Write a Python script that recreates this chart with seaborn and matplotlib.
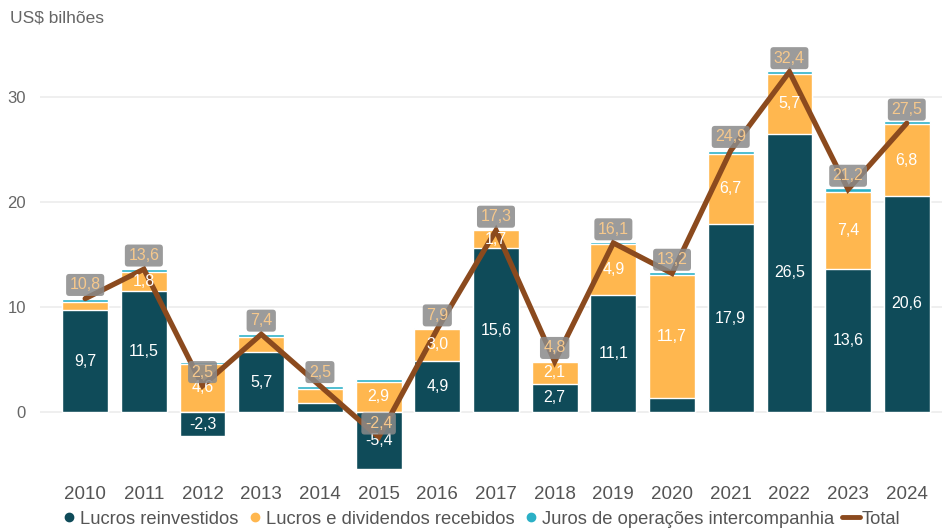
import numpy as np
import pandas as pd
import seaborn as sns
import matplotlib.pyplot as plt
from matplotlib.lines import Line2D

# values in US$ billions
anos = ["2010", "2011", "2012", "2013", "2014", "2015", "2016", "2017",
        "2018", "2019", "2020", "2021", "2022", "2023", "2024"]
reinvestidos = [9.7, 11.5, -2.3, 5.7, 0.9, -5.4, 4.9, 15.6, 2.7, 11.1, 1.3, 17.9, 26.5, 13.6, 20.6]
dividendos = [0.8, 1.8, 4.6, 1.4, 1.3, 2.9, 3.0, 1.7, 2.1, 4.9, 11.7, 6.7, 5.7, 7.4, 6.8]
juros = [0.3, 0.3, 0.2, 0.3, 0.3, 0.2, 0.1, 0.15, 0.1, 0.2, 0.3, 0.3, 0.3, 0.3, 0.3]
total = [10.8, 13.6, 2.5, 7.4, 2.5, -2.4, 7.9, 17.3, 4.8, 16.1, 13.2, 24.9, 32.4, 21.2, 27.5]

c_reinv = "#0f4b59"
c_div = "#ffb74f"
c_juros = "#2bb0c6"
c_total = "#8b4a1e"

sns.set_style("white")
plt.rcParams["font.family"] = ["Liberation Sans", "DejaVu Sans"]

df = pd.DataFrame({"ano": anos, "reinv": reinvestidos, "div": dividendos,
                   "juros": juros, "total": total})
pos_base = df["reinv"].clip(lower=0)
df["top_div"] = pos_base + df["div"]
df["top_juros"] = df["top_div"] + df["juros"]

fig = plt.figure(figsize=(9.42, 5.28), dpi=100)
ax = fig.add_axes([40 / 942, 0.1004, 1 - 40 / 942, 0.8153])

w = 0.78
# overdraw stacked layers from the top down
sns.barplot(data=df, x="ano", y="top_juros", color=c_juros, width=w, saturation=1, ax=ax)
sns.barplot(data=df, x="ano", y="top_div", color=c_div, width=w, saturation=1, ax=ax)
sns.barplot(data=df, x="ano", y="reinv", color=c_reinv, width=w, saturation=1, ax=ax)

xs = np.arange(len(anos))
sns.lineplot(x=xs, y=df["total"].values, color=c_total, linewidth=3.8, ax=ax,
             solid_joinstyle="miter")

def fmt(v):
    return f"{v:.1f}".replace(".", ",")

# labels inside segments
for i, r in df.iterrows():
    if abs(r["reinv"]) >= 2:
        ax.text(i, r["reinv"] / 2, fmt(r["reinv"]), ha="center", va="center",
                color="white", fontsize=11.5)
    if r["div"] >= 1.6:
        b = max(r["reinv"], 0)
        ax.text(i, b + r["div"] / 2, fmt(r["div"]), ha="center", va="center",
                color="white", fontsize=11.5)
    ax.text(i, r["total"] + 1.3, fmt(r["total"]), ha="center", va="center",
            color="#f6c88c", fontsize=11.5,
            bbox=dict(boxstyle="round,pad=0.22,rounding_size=0.2",
                      fc="#8a8a8a", ec="none", alpha=0.85))

ax.set_xlim(-0.77, 14.6)
ax.set_ylim(-6, 35)
ax.set_yticks([0, 10, 20, 30])
ax.grid(axis="y", color="#ececec", linewidth=1.2)
ax.set_axisbelow(True)
sns.despine(ax=ax, left=True, bottom=True)
ax.set_xlabel("")
ax.set_ylabel("")
ax.tick_params(axis="y", length=0, labelsize=12, labelcolor="#666666", pad=10)
ax.tick_params(axis="x", length=0, labelsize=13.5, labelcolor="#555555", pad=8)

fig.text(10 / 942, 1 - 18 / 528, "US$ bilhões", color="#666666", fontsize=12.5,
         va="center", ha="left")

handles = [
    Line2D([], [], marker="o", ls="", color=c_reinv, markersize=6),
    Line2D([], [], marker="o", ls="", color=c_div, markersize=6),
    Line2D([], [], marker="o", ls="", color=c_juros, markersize=6),
    Line2D([], [], color=c_total, linewidth=3.5),
]
labels = ["Lucros reinvestidos", "Lucros e dividendos recebidos",
          "Juros de operações intercompanhia", "Total"]
fig.legend(handles, labels, loc="center", bbox_to_anchor=(0.51, 1 - 519 / 528),
           ncol=4, frameon=False, labelcolor="#555555",
           prop={"size": 13.2},
           handlelength=1.0, handletextpad=0.1, columnspacing=0.4,
           borderaxespad=0)

fig.savefig("out.png", dpi=100)
